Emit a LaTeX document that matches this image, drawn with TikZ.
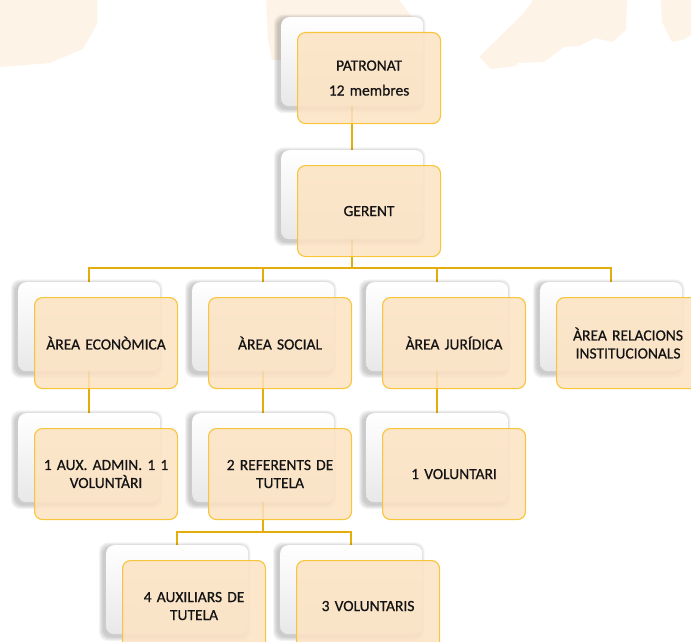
\documentclass[tikz,border=0pt]{standalone}
\usepackage{fontspec}
\setmainfont{Carlito}
\newfontfamily\cardfont[FakeBold=0.7]{Carlito}
\usetikzlibrary{calc}
\pgfdeclarelayer{bg}
\pgfsetlayers{bg,main}
\definecolor{gold}{HTML}{E3AD0B}
\definecolor{cardline}{HTML}{F8C43A}
\definecolor{cardfill}{HTML}{FDE3C2}
\definecolor{wmark}{HTML}{FDF3E6}
\tikzset{
  conn/.style={draw=gold, line width=2.2pt},
  backcard/.style={rounded corners=8pt, minimum width=142pt, minimum height=89pt,
    anchor=north west, top color=white, bottom color=black!9, inner sep=0pt},
  frontcard/.style={rounded corners=8pt, minimum width=143pt, minimum height=91pt,
    anchor=north west, draw=cardline, line width=1.1pt, fill=cardfill, fill opacity=0.85,
    text opacity=1, text=black!92, align=center, text width=132pt, inner sep=0pt,
    font=\cardfont\fontsize{15.5}{18}\selectfont},
  shadelayer/.style={fill=black, opacity=0.045, rounded corners=9pt},
  watermark/.style={fill=wmark}
}
\newcommand\orgunit[4]{%
  \foreach \k in {0,...,4}{%
    \fill[shadelayer] (#2-3.5-\k*0.9, #3+1-\k*0.9) rectangle (#2+141+\k*0.9, #3+92.5+\k*0.9);}
  \node[backcard] (w#1) at (#2,#3) {};
  \node[frontcard] (o#1) at (#2+16,#3+15) {#4};
}
\begin{document}
\begin{tikzpicture}[x=1pt, y=-1pt]
\useasboundingbox (0,0) rectangle (691,642);
\clip (0,0) rectangle (691,642);
% faint background shapes
\fill[watermark] (0,0) -- (97,0) -- (97,24) -- (83,49) -- (50,63) -- (0,67) -- cycle;
\fill[watermark] (266,0) -- (399,0) -- (416,22) -- (416,60) -- (272,60) -- (268,40) -- cycle;
\fill[watermark] (533,0) -- (627,0) -- (626,30) -- (612,42) -- (595,38) -- (579,46) -- (564,47)
  -- (544,62) -- (518,63) -- (515,66) -- (491,69) -- (479,57) -- (524,13) -- cycle;
\fill[watermark] (661,0) -- (691,0) -- (691,35) -- (685,39) -- (672,42) -- (662,22) -- cycle;
% units
\orgunit{P}{281}{17}{PATRONAT\\[7pt]12 membres}
\orgunit{G}{281}{150}{GERENT}
\orgunit{E}{18}{282}{ÀREA ECONÒMICA}
\orgunit{S}{192}{282}{ÀREA SOCIAL}
\orgunit{J}{366}{282}{ÀREA JURÍDICA}
\orgunit{R}{540}{282}{ÀREA RELACIONS\\INSTITUCIONALS}
\orgunit{EA}{18}{413}{1 AUX. ADMIN. 1 1\\VOLUNTÀRI}
\orgunit{SA}{192}{413}{2 REFERENTS DE\\TUTELA}
\orgunit{JA}{366}{413}{1 VOLUNTARI}
\orgunit{X}{106}{545}{4 AUXILIARS DE\\TUTELA}
\orgunit{V}{280}{545}{3 VOLUNTARIS}
% connectors
\begin{pgfonlayer}{bg}
\draw[conn] (wP.south) -- (wG.north);
\foreach \c in {E,S,J,R}{\draw[conn] (w\c.north) -- ++(0,-14) -| (wG.south);}
\draw[conn] (wE.south) -- (wEA.north);
\draw[conn] (wS.south) -- (wSA.north);
\draw[conn] (wJ.south) -- (wJA.north);
\foreach \c in {X,V}{\draw[conn] (w\c.north) -- ++(0,-13) -| (wSA.south);}
\end{pgfonlayer}
\end{tikzpicture}
\end{document}
